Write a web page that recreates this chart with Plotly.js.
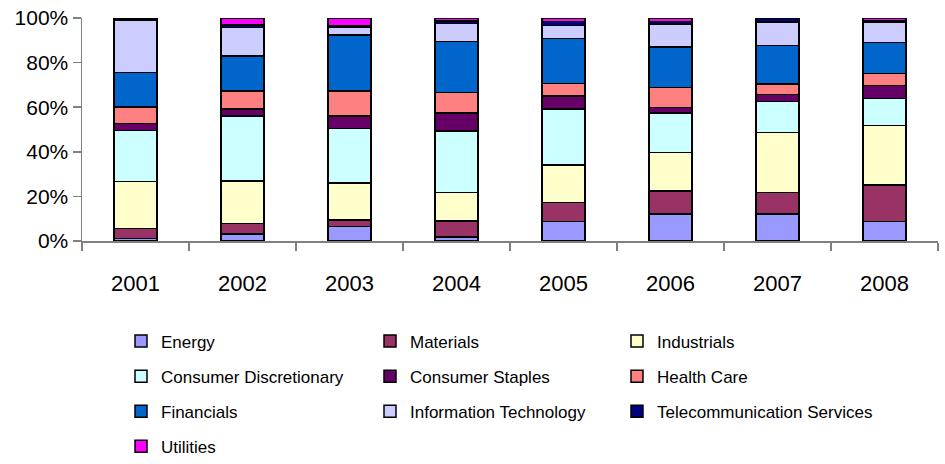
<!DOCTYPE html>
<html><head><meta charset="utf-8">
<script src="https://cdn.plot.ly/plotly-3.0.1.min.js"></script>
<style>html,body{margin:0;padding:0;background:#fff}#chart{width:945px;height:464px}</style>
</head><body><div id="chart"></div>
<script>
const years = ['2001','2002','2003','2004','2005','2006','2007','2008'];
const sectorNames = ['Energy','Materials','Industrials','Consumer Discretionary','Consumer Staples','Health Care','Financials','Information Technology','Telecommunication Services','Utilities'];
const sectorColors = ['#9999FF','#993366','#FFFFCC','#CCFFFF','#660066','#FF8080','#0066CC','#CCCCFF','#000080','#FF00FF'];
const energy      = [1.2, 3.1, 6.4, 1.9, 8.7, 12.1, 12.1, 8.7];
const materials   = [4.3, 4.8, 3.0, 7.1, 8.5, 10.3, 9.7, 16.4];
const industrials = [21.1, 18.9, 16.5, 12.8, 16.9, 17.2, 26.9, 26.6];
const consDisc    = [22.9, 29.3, 24.5, 27.5, 25.1, 17.9, 13.8, 12.3];
const consStaples = [3.1, 3.1, 5.7, 8.2, 5.8, 2.4, 3.3, 5.7];
const healthCare  = [7.6, 8.1, 11.2, 9.0, 5.6, 9.0, 4.6, 5.5];
const financials  = [15.4, 15.7, 25.1, 22.9, 20.3, 18.2, 17.2, 13.9];
const infoTech    = [23.5, 12.8, 3.4, 8.2, 5.7, 10.2, 10.5, 9.0];
const telecom     = [0.9, 1.1, 0.6, 1.1, 1.8, 1.1, 1.9, 0.6];
const utilities   = [0.0, 3.1, 3.6, 1.3, 1.6, 1.6, 0.0, 1.3];
const series = [energy, materials, industrials, consDisc, consStaples, healthCare, financials, infoTech, telecom, utilities];
const legendCols = ['legend','legend2','legend3','legend','legend2','legend3','legend','legend2','legend3','legend'];

const FONT = '"Liberation Sans", Arial, sans-serif';
const traces = series.map((vals, i) => ({
  type: 'bar', name: sectorNames[i], x: years, y: vals,
  legend: legendCols[i], legendgroup: 'g' + i,
  marker: {color: sectorColors[i], line: {color: '#000000', width: 1.5}},
  hoverinfo: 'x+y+name'
}));

function legendAt(xPix) {
  return {
    orientation: 'v', x: (xPix - 82) / 856, xanchor: 'left', y: -0.37, yanchor: 'top',
    traceorder: 'grouped', tracegroupgap: 10,
    font: {size: 17, family: FONT, color: '#000000'}, itemwidth: 30,
    bgcolor: 'rgba(0,0,0,0)', borderwidth: 0
  };
}

const layout = {
  width: 945, height: 464,
  barmode: 'stack', barnorm: 'percent', bargap: 0.6,
  margin: {l: 82, r: 7, t: 18, b: 223, autoexpand: false},
  paper_bgcolor: '#ffffff', plot_bgcolor: '#ffffff',
  font: {family: FONT, color: '#000000'},
  xaxis: {
    type: 'category', showline: true, linecolor: '#808080', linewidth: 1.5,
    ticks: 'outside', tickson: 'boundaries', ticklen: 8, tickcolor: '#808080', tickwidth: 1.5,
    ticklabelstandoff: 22,
    tickfont: {size: 22, family: FONT}, showgrid: false, zeroline: false
  },
  yaxis: {
    range: [0, 100], tickvals: [0, 20, 40, 60, 80, 100], ticktext: ['0%','20%','40%','60%','80%','100%'],
    showline: true, linecolor: '#808080', linewidth: 1.5,
    ticks: 'outside', ticklen: 8, tickcolor: '#808080', tickwidth: 1.5,
    tickfont: {size: 21, family: FONT}, showgrid: false, zeroline: false
  },
  showlegend: true,
  legend: legendAt(121),
  legend2: legendAt(370),
  legend3: legendAt(617)
};
Plotly.newPlot('chart', traces, layout, {displayModeBar: false, staticPlot: true});
</script></body></html>
